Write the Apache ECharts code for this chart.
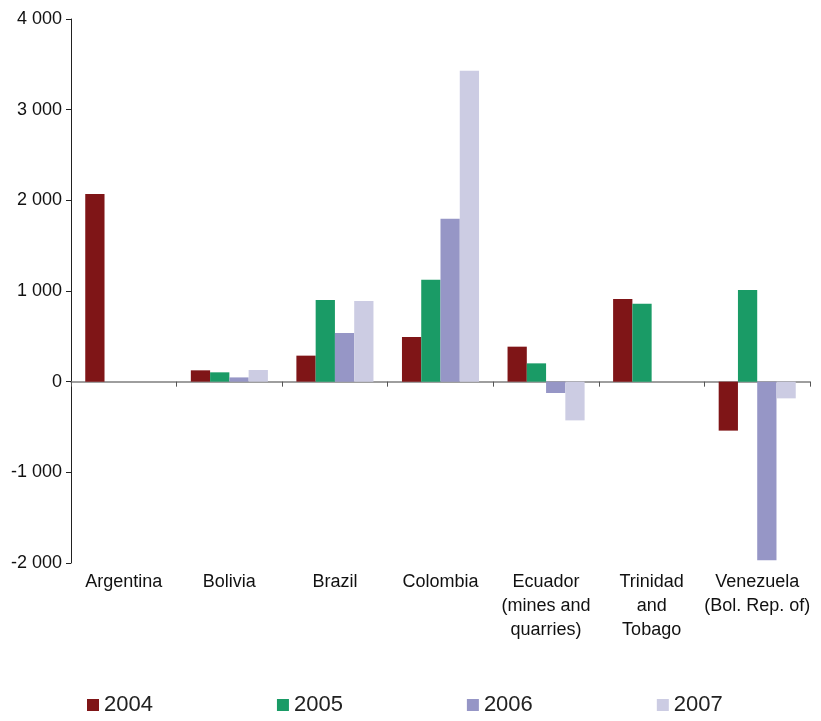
<!DOCTYPE html>
<html>
<head>
<meta charset="utf-8">
<script src="https://cdn.jsdelivr.net/npm/echarts@6/dist/echarts.min.js"></script>
<style>
  html, body { margin: 0; padding: 0; background: #fff; }
  #chart { width: 821px; height: 721px; }
</style>
</head>
<body>
<div id="chart"></div>
<script>
// Categories and yearly values (millions of dollars)
const categories = [
  'Argentina',
  'Bolivia',
  'Brazil',
  'Colombia',
  'Ecuador\n(mines and\nquarries)',
  'Trinidad\nand\nTobago',
  'Venezuela\n(Bol. Rep. of)'
];
const years = ['2004', '2005', '2006', '2007'];
const values2004 = [2070, 125, 287, 493, 386, 912, -540];
const values2005 = [null, 103, 901, 1125, 202, 860, 1011];
const values2006 = [null, 47, 537, 1797, -125, null, -1970];
const values2007 = [null, 129, 890, 3429, -427, null, -184];
const yTicks = { min: -2000, max: 4000, interval: 1000 };

const colors = ['#7f1517', '#1a9b66', '#9696c6', '#ccccE3'];
const seriesData = [values2004, values2005, values2006, values2007];

// Thousands separated by a space, e.g. "-2 000"
const fmt = v => {
  const s = Math.abs(v).toString().replace(/\B(?=(\d{3})+(?!\d))/g, ' ');
  return (v < 0 ? '-' : '') + s;
};

const chart = echarts.init(document.getElementById('chart'), null, { renderer: 'canvas' });
chart.setOption({
  animation: false,
  backgroundColor: '#ffffff',
  color: colors,
  grid: { left: 71, right: 11, top: 19, bottom: 158, containLabel: false },
  legend: {
    bottom: 0,
    left: 82,
    itemWidth: 12,
    itemHeight: 12,
    itemGap: 124,
    icon: 'rect',
    textStyle: { fontFamily: 'Liberation Sans, Arial, sans-serif', fontSize: 22, color: '#222' },
    data: years
  },
  xAxis: {
    type: 'category',
    data: categories,
    axisLine: { onZero: true, lineStyle: { color: '#7f7f7f', width: 1.5 } },
    axisTick: { show: true, length: 5, lineStyle: { color: '#555' } },
    axisLabel: {
      interval: 0,
      margin: 7,
      fontFamily: 'Liberation Sans, Arial, sans-serif',
      fontSize: 18,
      lineHeight: 24,
      color: '#111'
    },
    position: 'bottom'
  },
  yAxis: {
    type: 'value',
    min: yTicks.min,
    max: yTicks.max,
    interval: yTicks.interval,
    axisLine: { show: true, lineStyle: { color: '#222', width: 1 } },
    axisTick: { show: true, length: 5, lineStyle: { color: '#222' } },
    splitLine: { show: false },
    axisLabel: {
      formatter: fmt,
      fontFamily: 'Liberation Sans, Arial, sans-serif',
      fontSize: 18,
      color: '#111',
      margin: 9
    }
  },
  series: years.map((y, i) => ({
    name: y,
    type: 'bar',
    data: seriesData[i],
    barGap: '0%',
    barCategoryGap: '27%',
    itemStyle: { color: colors[i] }
  }))
});
</script>
</body>
</html>
